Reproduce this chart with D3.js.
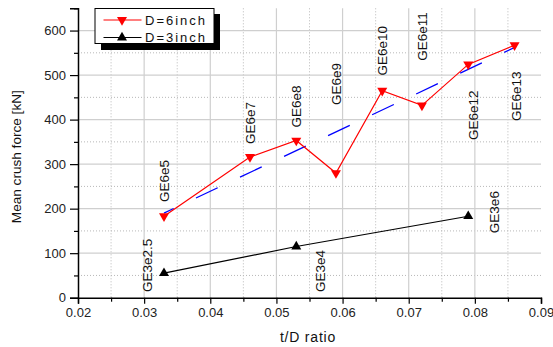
<!DOCTYPE html>
<html>
<head>
<meta charset="utf-8">
<script src="https://cdn.jsdelivr.net/npm/d3@7"></script>
<style>
  html, body { margin: 0; padding: 0; background: #fff; }
  svg { display: block; font-family: "Liberation Sans", Arial, sans-serif; }
</style>
</head>
<body>
<svg id="chart" width="553" height="347"></svg>
<script>
// t/D ratio and mean crush force for the two tube diameters
const d6Ratio  = [0.033, 0.046, 0.053, 0.059, 0.066, 0.072, 0.079, 0.086];
const d6Force  = [183, 316, 353, 280, 465, 432, 524, 567];
const d6Names  = ["GE6e5", "GE6e7", "GE6e8", "GE6e9", "GE6e10", "GE6e11", "GE6e12", "GE6e13"];
const d6LabelX = [0.033, 0.046, 0.053, 0.059, 0.066, 0.072, 0.0797, 0.0863];
const d6LabelY = [215, 345, 382, 433, 499, 532, 354, 397];

const d3Ratio  = [0.033, 0.053, 0.079];
const d3Force  = [55, 115, 183];
const d3Names  = ["GE3e2.5", "GE3e4", "GE3e6"];
const d3LabelX = [0.0304, 0.0566, 0.0830];
const d3LabelY = [13, 13, 145];

// linear trend through the 6-inch results
const trendRatio = [0.033, 0.086];
const trendForce = [190, 562];

const xTicks = [0.02, 0.03, 0.04, 0.05, 0.06, 0.07, 0.08, 0.09];
const yTicks = [0, 100, 200, 300, 400, 500, 600];
const seriesNames = ["D=6inch", "D=3inch"];

const svg = d3.select("#chart");
const plotLeft = 78, plotRight = 541, plotTop = 8.3, plotBottom = 297.7;

const x = d3.scaleLinear().domain([0.02, 0.09]).range([plotLeft, plotRight]);
const y = d3.scaleLinear().domain([0, 650]).range([plotBottom, plotTop]);

const xMinor = d3.range(0.025, 0.09, 0.01);
const yMinor = d3.range(50, 651, 100);

// grid
const grid = svg.append("g");
grid.selectAll(".vminor").data(xMinor).join("line")
  .attr("x1", d => x(d)).attr("x2", d => x(d)).attr("y1", plotTop).attr("y2", plotBottom)
  .attr("stroke", "#b8b8b8").attr("stroke-width", 1).attr("stroke-dasharray", "1,2");
grid.selectAll(".hminor").data(yMinor.filter(v => v < 650)).join("line")
  .attr("x1", plotLeft).attr("x2", plotRight).attr("y1", d => y(d)).attr("y2", d => y(d))
  .attr("stroke", "#b8b8b8").attr("stroke-width", 1).attr("stroke-dasharray", "1,2");
grid.selectAll(".vmajor").data(xTicks.slice(1, -1)).join("line")
  .attr("x1", d => x(d)).attr("x2", d => x(d)).attr("y1", plotTop).attr("y2", plotBottom)
  .attr("stroke", "#cfcfcf").attr("stroke-width", 1.2);
grid.selectAll(".hmajor").data(yTicks.slice(1)).join("line")
  .attr("x1", plotLeft).attr("x2", plotRight).attr("y1", d => y(d)).attr("y2", d => y(d))
  .attr("stroke", "#cfcfcf").attr("stroke-width", 1.2);

// axes
const xAxis = svg.append("g").attr("transform", `translate(0,${plotBottom})`);
xAxis.call(d3.axisBottom(x).tickValues(xTicks).tickSize(6).tickPadding(4)
  .tickFormat(d3.format(".2f")));
const xMinorAxis = svg.append("g").attr("transform", `translate(0,${plotBottom})`);
xMinorAxis.call(d3.axisBottom(x).tickValues(xMinor).tickSize(4).tickFormat(""));

const yAxis = svg.append("g").attr("transform", `translate(${plotLeft},0)`);
yAxis.call(d3.axisLeft(y).tickValues(yTicks).tickSize(8).tickPadding(4));
const yMinorAxis = svg.append("g").attr("transform", `translate(${plotLeft},0)`);
yMinorAxis.call(d3.axisLeft(y).tickValues(yMinor).tickSize(4).tickFormat(""));

[xAxis, xMinorAxis, yAxis, yMinorAxis].forEach(g => {
  g.select(".domain").attr("stroke", "#000").attr("stroke-width", 1.5);
  g.selectAll(".tick line").attr("stroke", "#000").attr("stroke-width", 1.2);
  g.selectAll(".tick text").attr("fill", "#222").attr("font-size", 13)
    .attr("font-family", '"Liberation Sans", Arial, sans-serif');
});
xMinorAxis.select(".domain").remove();
yMinorAxis.select(".domain").remove();

// axis titles
svg.append("text").attr("x", 308).attr("y", 342).attr("text-anchor", "middle")
  .attr("font-size", 14).attr("letter-spacing", 0.8).attr("fill", "#111").text("t/D ratio");
svg.append("text").attr("transform", "translate(21,156.7) rotate(-90)")
  .attr("text-anchor", "middle").attr("font-size", 13.6).attr("fill", "#111")
  .text("Mean crush force [kN]");

// triangle markers
function tri(down, s) {
  const h = s * 0.87;
  return down
    ? `M${-s/2},${-h/3}L${s/2},${-h/3}L0,${2*h/3}Z`
    : `M${-s/2},${h/3}L${s/2},${h/3}L0,${-2*h/3}Z`;
}

const line = d3.line().x(d => x(d[0])).y(d => y(d[1]));

// trend
svg.append("path")
  .attr("d", line(d3.zip(trendRatio, trendForce)))
  .attr("fill", "none").attr("stroke", "#0000ff").attr("stroke-width", 1.3)
  .attr("stroke-dasharray", "24,24.7").attr("stroke-dashoffset", 13.3);

// D = 6 inch
svg.append("path")
  .attr("d", line(d3.zip(d6Ratio, d6Force)))
  .attr("fill", "none").attr("stroke", "#ff0000").attr("stroke-width", 1.2);
svg.selectAll(".m6").data(d3.zip(d6Ratio, d6Force)).join("path")
  .attr("transform", d => `translate(${x(d[0])},${y(d[1])})`)
  .attr("d", tri(true, 10)).attr("fill", "#ff0000");

// D = 3 inch
svg.append("path")
  .attr("d", line(d3.zip(d3Ratio, d3Force)))
  .attr("fill", "none").attr("stroke", "#000").attr("stroke-width", 1.2);
svg.selectAll(".m3").data(d3.zip(d3Ratio, d3Force)).join("path")
  .attr("transform", d => `translate(${x(d[0])},${y(d[1])})`)
  .attr("d", tri(false, 10)).attr("fill", "#000");

// specimen labels
const labels = d3.zip(d6Names, d6LabelX, d6LabelY).concat(d3.zip(d3Names, d3LabelX, d3LabelY));
svg.selectAll(".lab").data(labels).join("text")
  .attr("transform", d => `translate(${x(d[1])},${y(d[2])}) rotate(-90)`)
  .attr("dy", "0.35em").attr("font-size", 13.5).attr("fill", "#111")
  .text(d => d[0]);

// legend
const lg = svg.append("g");
lg.append("rect").attr("x", 101).attr("y", 14).attr("width", 119).attr("height", 36).attr("fill", "#000");
lg.append("rect").attr("x", 95).attr("y", 8.5).attr("width", 119).attr("height", 35)
  .attr("fill", "#fff").attr("stroke", "#000").attr("stroke-width", 1);
const rows = [
  { name: seriesNames[0], color: "#ff0000", down: true, yy: 20 },
  { name: seriesNames[1], color: "#000", down: false, yy: 37.5 }
];
rows.forEach(r => {
  lg.append("line").attr("x1", 103.5).attr("x2", 141.5).attr("y1", r.yy).attr("y2", r.yy)
    .attr("stroke", r.color).attr("stroke-width", 1.2);
  lg.append("path").attr("transform", `translate(122,${r.yy})`).attr("d", tri(r.down, 10)).attr("fill", r.color);
  lg.append("text").attr("x", 145).attr("y", r.yy).attr("dy", "0.35em")
    .attr("font-size", 13).attr("letter-spacing", 2).attr("fill", "#111").text(r.name);
});
</script>
</body>
</html>
